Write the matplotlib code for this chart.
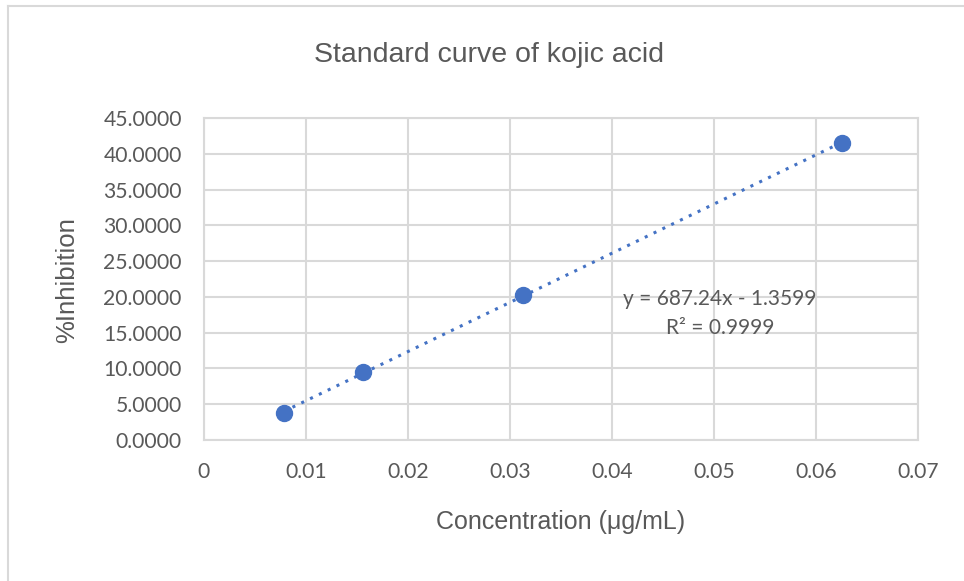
import numpy as np
import matplotlib.pyplot as plt
from matplotlib.lines import Line2D

# kojic acid standard curve
concentration = [0.0078125, 0.015625, 0.03125, 0.0625]
inhibition = [3.8, 9.5, 20.2, 41.5]
x_ticks = [0, 0.01, 0.02, 0.03, 0.04, 0.05, 0.06, 0.07]
x_tick_labels = ["0", "0.01", "0.02", "0.03", "0.04", "0.05", "0.06", "0.07"]
y_ticks = [0, 5, 10, 15, 20, 25, 30, 35, 40, 45]
equation = "y = 687.24x - 1.3599"
r_squared = "R² = 0.9999"

BLUE = "#4472C4"
GRID = "#d9d9d9"
TEXT = "#595959"
FONT = ["Lato", "DejaVu Sans"]
LABEL_FONT = ["Liberation Sans", "DejaVu Sans"]

fig = plt.figure(figsize=(9.64, 5.81), dpi=100)
ax = fig.add_axes([204 / 964, 1 - 440 / 581, 714 / 964, 322 / 581])

# dotted linear trendline through the points
slope, intercept = np.polyfit(concentration, inhibition, 1)
xs = np.array([concentration[0], concentration[-1]])
ax.plot(xs, slope * xs + intercept, linestyle=(0, (1, 2.2)), color=BLUE,
        linewidth=2.2, zorder=3)
ax.plot(concentration, inhibition, "o", color=BLUE, markersize=11.5, zorder=4)

ax.set_xlim(0, 0.07)
ax.set_ylim(0, 45)
ax.set_xticks(x_ticks)
ax.set_xticklabels(x_tick_labels)
ax.set_yticks(y_ticks)
ax.set_yticklabels([f"{v:.4f}" for v in y_ticks])
ax.grid(True, color=GRID, linewidth=1.5)
ax.set_axisbelow(True)
for side in ["left", "bottom", "top", "right"]:
    ax.spines[side].set_color(GRID)
    ax.spines[side].set_linewidth(1.5)
ax.tick_params(length=0, labelsize=15.2, labelcolor=TEXT)
ax.tick_params(axis="y", pad=16)
ax.tick_params(axis="x", pad=16)
for lab in ax.get_xticklabels() + ax.get_yticklabels():
    lab.set_family(FONT)

ax.text(0.0506, 19.7, equation, ha="center", va="center", fontsize=15,
        color=TEXT, family=FONT)
ax.text(0.0506, 15.7, r_squared, ha="center", va="center", fontsize=15,
        color=TEXT, family=FONT)

fig.text(489 / 964, 1 - 55 / 581, "Standard curve of kojic acid", ha="center",
         va="center", fontsize=20.5, color=TEXT, family=LABEL_FONT)
fig.text(561 / 964, 1 - 522 / 581, "Concentration (μg/mL)", ha="center",
         va="center", fontsize=18, color=TEXT, family=LABEL_FONT)
fig.text(67 / 964, 1 - 280 / 581, "%Inhibition", ha="center", va="center",
         rotation=90, fontsize=18.5, color=TEXT, family=LABEL_FONT)

# chart frame (left and top edges visible)
fig.add_artist(Line2D([8 / 964, 8 / 964], [0, 1 - 6 / 581], color=GRID, linewidth=1.5))
fig.add_artist(Line2D([8 / 964, 963 / 964], [1 - 6 / 581, 1 - 6 / 581], color=GRID, linewidth=1.5))

fig.savefig("out.png", dpi=100)
